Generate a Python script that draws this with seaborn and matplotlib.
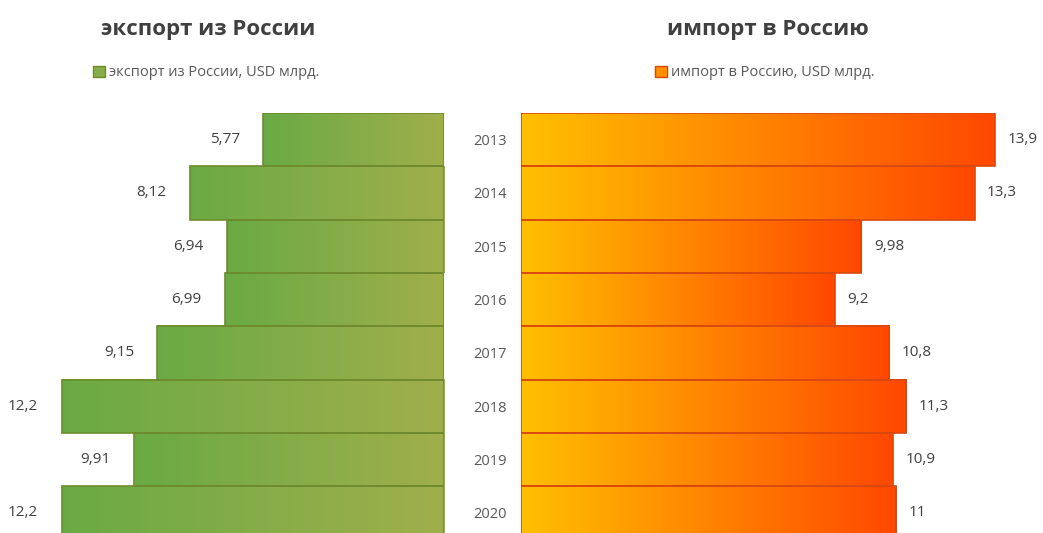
import numpy as np
import pandas as pd
import seaborn as sns
import matplotlib.pyplot as plt
from matplotlib.colors import LinearSegmentedColormap
from matplotlib.patches import Patch

# Данные (USD млрд.)
years = ['2013', '2014', '2015', '2016', '2017', '2018', '2019', '2020']
export_vals = [5.77, 8.12, 6.94, 6.99, 9.15, 12.2, 9.91, 12.2]
import_vals = [13.9, 13.3, 9.98, 9.2, 10.8, 11.3, 10.9, 11]

df = pd.DataFrame({'year': years, 'export': export_vals, 'import': import_vals})

sns.set_style("white")
plt.rcParams['font.family'] = ['Open Sans', 'DejaVu Sans']

fig = plt.figure(figsize=(10.43, 5.33), dpi=100)
ax1 = fig.add_axes([0, 0, 444 / 1043, 1 - 113 / 533])
ax2 = fig.add_axes([521 / 1043, 0, 522 / 1043, 1 - 113 / 533])

sns.barplot(data=df, y='year', x='export', orient='h', ax=ax1, width=1.0,
            color='#9BAF4A', edgecolor='#6E8B2E', linewidth=1.2, saturation=1)
sns.barplot(data=df, y='year', x='import', orient='h', ax=ax2, width=1.0,
            color='#FF8000', edgecolor='#D9480F', linewidth=1.2, saturation=1)

# градиентная заливка каждого столбца
cm_exp = LinearSegmentedColormap.from_list('exp', ['#A0AF4C', '#6AAA44'])
cm_imp = LinearSegmentedColormap.from_list('imp', ['#FFC000', '#FF4800'])
grad = np.linspace(0, 1, 256).reshape(1, -1)
for ax, cmap in [(ax1, cm_exp), (ax2, cm_imp)]:
    for p in ax.patches:
        x0, y0, w, h = p.get_x(), p.get_y(), p.get_width(), p.get_height()
        ax.imshow(grad, cmap=cmap, aspect='auto', extent=(x0, x0 + w, y0, y0 + h),
                  zorder=1, interpolation='bicubic')
        p.set_facecolor('none')
        p.set_zorder(2)

x1max = 444 / ((444 - 62) / 12.2)
x2max = 522 / ((995 - 521) / 13.9)
ylim = (-0.5 + 420 / 53.3, -0.5)
ax1.set_xlim(x1max, 0)
ax2.set_xlim(0, x2max)
for ax in (ax1, ax2):
    ax.set_ylim(*ylim)
    ax.set_xlabel('')
    ax.set_ylabel('')
    ax.set_xticks([])
    sns.despine(ax=ax, left=True, bottom=True)

ax1.set_yticks([])
ax2.tick_params(axis='y', length=0, pad=10, labelsize=10.5, labelcolor='#595959')

ax1.bar_label(ax1.containers[0], labels=[f'{v:g}'.replace('.', ',') for v in export_vals],
              padding=17, fontsize=11, color='#404040')
ax2.bar_label(ax2.containers[0], labels=[f'{v:g}'.replace('.', ',') for v in import_vals],
              padding=9, fontsize=11, color='#404040')

fig.text(208 / 1043, 1 - 29 / 533, 'экспорт из России', ha='center', va='center',
         fontsize=16, fontweight='bold', color='#404040')
fig.text(768 / 1043, 1 - 29 / 533, 'импорт в Россию', ha='center', va='center',
         fontsize=16, fontweight='bold', color='#404040')

fig.legend(handles=[Patch(facecolor='#86AD48', edgecolor='#6E8B2E', label='экспорт из России, USD млрд.')],
           loc='center left', bbox_to_anchor=(86 / 1043, 1 - 73 / 533), frameon=False,
           handlelength=0.8, handleheight=0.8, handletextpad=0.3, fontsize=10.5,
           labelcolor='#595959', borderpad=0)
fig.legend(handles=[Patch(facecolor='#FF9000', edgecolor='#D9480F', label='импорт в Россию, USD млрд.')],
           loc='center left', bbox_to_anchor=(648 / 1043, 1 - 73 / 533), frameon=False,
           handlelength=0.8, handleheight=0.8, handletextpad=0.3, fontsize=10.5,
           labelcolor='#595959', borderpad=0)

fig.savefig('out.png', dpi=100)
